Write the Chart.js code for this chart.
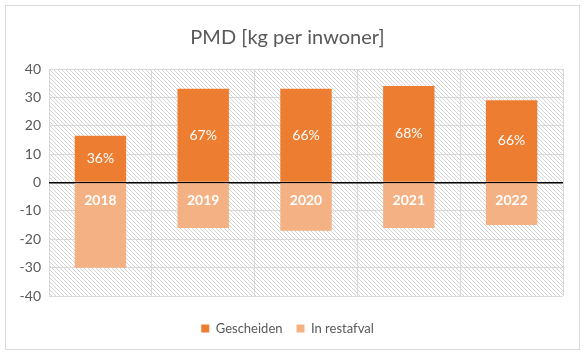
<!DOCTYPE html>
<html>
  <head>
    <title>PMD [kg per inwoner]</title>
    <script src="https://cdn.jsdelivr.net/npm/chart.js"></script>
    <style>
      body { margin: 0; background: #fff; }
      #wrap { width: 585px; height: 358px; }
    </style>
  </head>
  <body>
    <div id="wrap"><canvas id="pmd-chart" width="585" height="358"></canvas></div>

    <script>
      // values (kg per inwoner)
      const years = ["2018", "2019", "2020", "2021", "2022"];
      const gescheiden = [16.5, 33, 33, 34, 29];
      const inRestafval = [-30, -16, -17, -16, -15];
      const pctLabels = ["36%", "67%", "66%", "68%", "66%"];
      const yTicks = [40, 30, 20, 10, 0, -10, -20, -30, -40];

      const gridGray = "#d9d9d9";
      const textGray = "#595959";

      // fine diagonal hatch for the plot background
      function makeHatch(ctx) {
        const c = document.createElement("canvas");
        c.width = 4;
        c.height = 4;
        const p = c.getContext("2d");
        p.fillStyle = "#ffffff";
        p.fillRect(0, 0, 4, 4);
        p.strokeStyle = "#d4d4d4";
        p.lineWidth = 1;
        p.beginPath();
        p.moveTo(0, 0);
        p.lineTo(4, 4);
        p.moveTo(-1, 3);
        p.lineTo(1, 5);
        p.moveTo(3, -1);
        p.lineTo(5, 1);
        p.stroke();
        return ctx.createPattern(c, "repeat");
      }

      const backgroundPlugin = {
        id: "background",
        beforeDraw(chart) {
          const { ctx, chartArea: a } = chart;
          ctx.save();
          ctx.strokeStyle = gridGray;
          ctx.lineWidth = 1;
          ctx.strokeRect(5.5, 5.5, 574, 344);
          ctx.fillStyle = makeHatch(ctx);
          ctx.fillRect(a.left, a.top, a.right - a.left, a.bottom - a.top);
          ctx.restore();
        },
      };

      const labelPlugin = {
        id: "barLabels",
        afterDatasetsDraw(chart) {
          const ctx = chart.ctx;
          ctx.save();
          ctx.fillStyle = "#ffffff";
          ctx.textAlign = "center";
          ctx.textBaseline = "middle";
          chart.getDatasetMeta(0).data.forEach((bar, i) => {
            ctx.font = "14px Lato";
            ctx.fillText(pctLabels[i], bar.x, (bar.y + bar.base) / 2);
          });
          chart.getDatasetMeta(1).data.forEach((bar, i) => {
            ctx.font = "bold 14px Lato";
            ctx.fillText(years[i], bar.x, bar.base + 17);
          });
          ctx.restore();
        },
      };

      const ctx = document.getElementById("pmd-chart").getContext("2d");
      new Chart(ctx, {
        type: "bar",
        data: {
          labels: years,
          datasets: [
            {
              label: "Gescheiden",
              data: gescheiden,
              backgroundColor: "#ED7D31",
              barPercentage: 0.5,
              categoryPercentage: 1,
            },
            {
              label: "In restafval",
              data: inRestafval,
              backgroundColor: "#F4B183",
              barPercentage: 0.5,
              categoryPercentage: 1,
            },
          ],
        },
        options: {
          responsive: false,
          animation: false,
          layout: { padding: { top: 12, left: 12, right: 22, bottom: 13 } },
          plugins: {
            title: {
              display: true,
              text: "PMD [kg per inwoner]",
              color: textGray,
              font: { family: "Lato", size: 20, weight: "normal" },
              padding: { top: 14, bottom: 19 },
            },
            legend: {
              position: "bottom",
              labels: {
                color: textGray,
                font: { family: "Lato", size: 13 },
                boxWidth: 8,
                boxHeight: 8,
                padding: 14,
              },
            },
            tooltip: { enabled: false },
          },
          scales: {
            x: {
              stacked: true,
              ticks: { display: false },
              border: { display: false },
              grid: { color: gridGray, offset: true, drawTicks: false },
              afterFit(scale) {
                scale.height = 12;
              },
            },
            y: {
              stacked: true,
              min: -40,
              max: 40,
              afterBuildTicks(scale) {
                scale.ticks = yTicks.map((v) => ({ value: v }));
              },
              afterFit(scale) {
                scale.width = 37;
              },
              ticks: {
                color: textGray,
                font: { family: "Lato", size: 14 },
                padding: 8,
              },
              border: { display: false },
              grid: {
                drawTicks: false,
                color: (c) => (c.tick && c.tick.value === 0 ? "#000000" : gridGray),
                lineWidth: (c) => (c.tick && c.tick.value === 0 ? 1.5 : 1),
              },
            },
          },
        },
        plugins: [backgroundPlugin, labelPlugin],
      });
    </script>
  </body>
</html>
